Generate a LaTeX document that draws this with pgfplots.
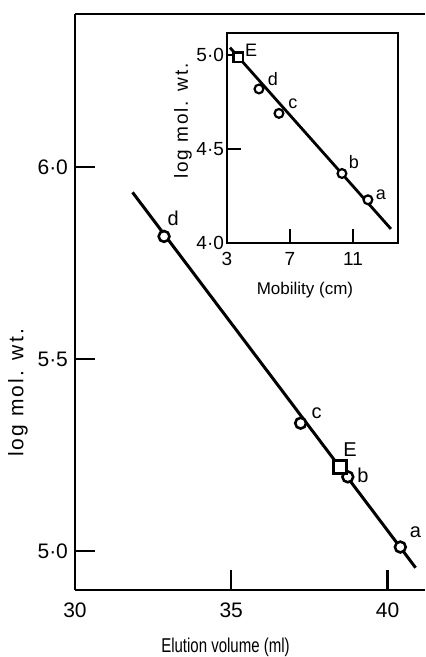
\documentclass[border=0pt]{standalone}
\usepackage{fontspec}
\setmainfont{Liberation Sans}
\newfontfamily\widefont{Liberation Sans}[LetterSpace=10]
\newfontfamily\narrowfont{Liberation Sans}[FakeStretch=0.75]
\usepackage{pgfplots}
\pgfplotsset{compat=1.18}
\begin{document}
\begin{tikzpicture}
\begin{axis}[
  name=main, at={(0,0)}, anchor=south west,
  scale only axis, width=175pt, height=288pt,
  xmin=30, xmax=41.2, ymin=4.898, ymax=6.40,
  axis x line=box, axis y line=left,
  y axis line style={-}, x axis line style={-},
  axis line style={line width=1.3pt},
  tick align=inside, major tick length=10pt,
  tick style={black, line width=1.1pt},
  xtick pos=left, ytick pos=left,
  xtick={30,35,40}, xticklabels={30,35,40},
  ytick={5,5.5,6}, yticklabels={5·0,5·5,6·0},
  ticklabel style={font=\fontsize{10.5}{12}\selectfont},
  xticklabel style={yshift=-3pt},
  xlabel={Elution volume (ml)}, ylabel={log mol. wt.},
  xlabel style={font=\narrowfont\fontsize{10}{12}\selectfont, at={(axis description cs:0.43,-0.099)}, anchor=center},
  ylabel style={font=\widefont\fontsize{10.5}{12}\selectfont, at={(axis description cs:-0.163,0.342)}, anchor=center},
  clip=false,
]
\addplot[black, line width=1.5pt] coordinates {(31.84,5.935) (40.9,4.956)};
\addplot[only marks, mark=*, mark size=2.7pt, mark options={fill=white, draw=black, line width=1.3pt}]
  coordinates {(32.85,5.82) (37.22,5.333) (38.73,5.193) (40.41,5.01)};
\addplot[only marks, mark=square*, mark size=3.2pt, mark options={fill=white, draw=black, line width=1.3pt}]
  coordinates {(38.48,5.219)};
\begin{scope}[font=\fontsize{10}{12}\selectfont]
\node[xshift=4.5pt, yshift=9pt] at (axis cs:32.85,5.82) {d};
\node[xshift=8pt, yshift=5pt] at (axis cs:37.22,5.333) {c};
\node[xshift=5pt, yshift=8.5pt] at (axis cs:38.48,5.219) {E};
\node[xshift=7.5pt, yshift=1pt] at (axis cs:38.73,5.193) {b};
\node[xshift=7.5pt, yshift=7.5pt] at (axis cs:40.41,5.01) {a};
\end{scope}
\end{axis}
\begin{axis}[
  name=inset, at={(76pt,173.5pt)}, anchor=south west,
  scale only axis, width=85.5pt, height=105pt,
  xmin=3, xmax=13.86, ymin=4.0, ymax=5.118,
  axis line style={line width=1.3pt},
  tick align=inside, major tick length=7pt,
  tick style={black, line width=1pt},
  xtick pos=left, ytick pos=left,
  xtick={3,7,11}, xticklabels={3,7,11},
  ytick={4,4.5,5}, yticklabels={4·0,4·5,5·0},
  ticklabel style={font=\fontsize{9.5}{11}\selectfont},
  yticklabel style={xshift=2pt},
  xticklabel style={yshift=-1pt},
  xlabel={Mobility (cm)}, ylabel={log mol. wt.},
  xlabel style={font=\fontsize{8.5}{10}\selectfont, at={(axis description cs:0.456,-0.224)}, anchor=center},
  ylabel style={font=\widefont\fontsize{9.5}{11}\selectfont, at={(axis description cs:-0.257,0.58)}, anchor=center},
  clip=false,
]
\addplot[black, line width=1.4pt] coordinates {(3.19,5.04) (13.41,4.075)};
\addplot[only marks, mark=*, mark size=2.2pt, mark options={fill=white, draw=black, line width=1.1pt}]
  coordinates {(5.03,4.82) (6.30,4.69) (10.30,4.37) (11.95,4.23)};
\addplot[only marks, mark=square*, mark size=2.3pt, mark options={fill=white, draw=black, line width=1.1pt}]
  coordinates {(3.70,4.99)};
\begin{scope}[font=\fontsize{9}{10}\selectfont]
\node[xshift=6.5pt, yshift=3.5pt] at (axis cs:3.70,4.99) {E};
\node[xshift=7pt, yshift=5pt] at (axis cs:5.03,4.82) {d};
\node[xshift=7pt, yshift=5pt] at (axis cs:6.30,4.69) {c};
\node[xshift=6pt, yshift=5.5pt] at (axis cs:10.30,4.37) {b};
\node[xshift=6.5pt, yshift=2.5pt] at (axis cs:11.95,4.23) {a};
\end{scope}
\end{axis}
\pgfresetboundingbox
\path (-37.5pt,-33.5pt) rectangle (175pt,295pt);
\end{tikzpicture}
\end{document}
